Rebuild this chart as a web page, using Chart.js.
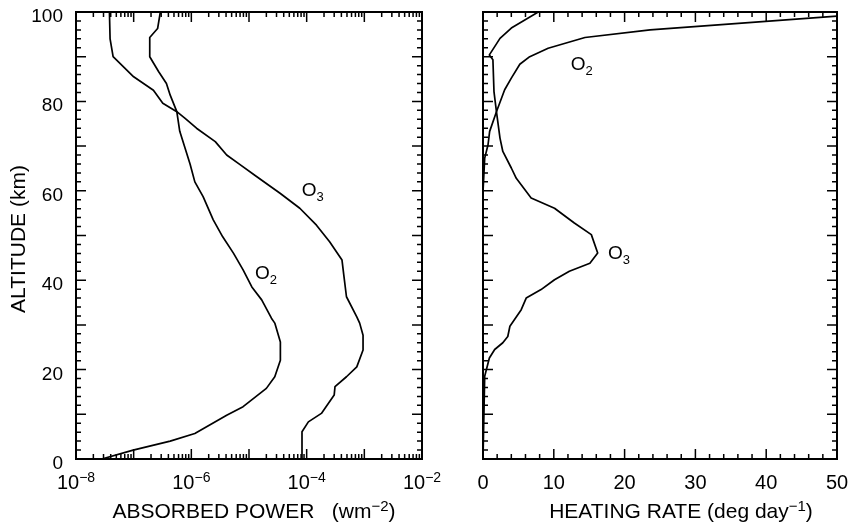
<!DOCTYPE html>
<html>
<head>
<meta charset="utf-8">
<script src="https://cdn.jsdelivr.net/npm/chart.js@4.4.1/dist/chart.umd.min.js"></script>
<style>
body{margin:0;background:#fff;}
#wrap{position:relative;width:853px;height:529px;}
canvas{position:absolute;top:0;}
</style>
</head>
<body>
<div id="wrap">
<canvas id="absChart" width="470" height="529" style="left:0"></canvas>
<canvas id="heatChart" width="423" height="529" style="left:430px"></canvas>
</div>
<script>
// left panel: absorbed power (W m-2) vs altitude (km)
var o3AltLeft = [100, 94, 90, 87.8, 85.5, 82.5, 79.6, 77.7, 76.2, 74, 71, 68, 65.9, 63.2, 59.4, 56.1, 52.3, 48.6, 44.5, 41.2, 36.3, 31.8, 30.4, 27.7, 24.4, 20.6, 18.4, 16.2, 14.3, 10.2, 8.3, 6.1, 0];
var o3Power = [3.8e-8, 3.9e-8, 4.4e-8, 6.6e-8, 1.0e-7, 2.2e-7, 3.2e-7, 5.6e-7, 7.8e-7, 1.23e-6, 2.6e-6, 4.1e-6, 6.9e-6, 1.35e-5, 3.5e-5, 7.6e-5, 1.48e-4, 2.5e-4, 4.1e-4, 4.4e-4, 4.9e-4, 7.4e-4, 8.3e-4, 9.5e-4, 9.5e-4, 7.4e-4, 4.9e-4, 3.1e-4, 3.0e-4, 1.8e-4, 1.07e-4, 8.3e-5, 8.3e-5];
var o2AltLeft = [100, 96.3, 94.3, 90, 86.7, 84, 81.4, 77.7, 73.3, 66, 62, 58.7, 53.5, 49.7, 46, 42.3, 38.5, 35.6, 31.5, 30.4, 26.2, 22.1, 18.4, 15.8, 11.7, 9.8, 5.7, 4, 2, 0];
var o2Power = [2.9e-7, 2.6e-7, 1.9e-7, 1.9e-7, 2.7e-7, 3.7e-7, 4.3e-7, 5.6e-7, 6.3e-7, 9.5e-7, 1.15e-6, 1.6e-6, 2.4e-6, 3.5e-6, 5.4e-6, 7.9e-6, 1.12e-5, 1.66e-5, 2.45e-5, 2.8e-5, 3.5e-5, 3.5e-5, 2.8e-5, 2.0e-5, 7.9e-6, 4.1e-6, 1.15e-6, 4.3e-7, 9.8e-8, 2.8e-8];

// right panel: heating rate (deg/day) vs altitude (km)
var o3AltRight = [100, 96.4, 94.1, 90.4, 89.3, 82.2, 77.7, 71.8, 68.8, 65.1, 62.8, 58.4, 56.1, 52.8, 50.2, 46.1, 43.8, 42.0, 40.1, 37.9, 36.0, 33.4, 29.7, 27.4, 26.0, 24.5, 22.6, 18.5, 0];
var o3Heat = [7.8, 4.0, 2.4, 0.9, 1.4, 1.55, 1.9, 2.4, 2.8, 4.0, 4.7, 6.8, 10.1, 12.9, 15.3, 16.2, 15.1, 12.2, 10.1, 8.2, 6.1, 5.4, 3.8, 3.5, 2.8, 1.65, 0.9, 0.24, 0];
var o2AltRight = [99.1, 96.0, 94.3, 91.9, 90.0, 88.3, 85.2, 82.6, 77.7, 73.3, 70.3, 67.3, 59.8];
var o2Heat = [50, 23.6, 14.4, 9.2, 6.6, 5.2, 4.0, 3.06, 1.9, 0.94, 0.71, 0.24, 0];

// tick labels
var altLabels = [0, 20, 40, 60, 80, 100];
var powerExps = [-8, -6, -4, -2];
var heatLabels = [0, 10, 20, 30, 40, 50];

var FONT = '"Liberation Sans", Arial, Helvetica, sans-serif';

function pts(xs, ys) {
  return xs.map(function(x, i) { return {x: x, y: ys[i]}; });
}

// parts: [text, kind]  kind 1 = superscript, -1 = subscript
function drawParts(ctx, parts, x, y, size, align) {
  var small = Math.round(size * 0.7);
  var widths = [], total = 0;
  parts.forEach(function(p) {
    ctx.font = (p[1] ? small : size) + 'px ' + FONT;
    var w = ctx.measureText(p[0]).width;
    widths.push(w);
    total += w;
  });
  var cx = align === 'center' ? x - total / 2 : (align === 'right' ? x - total : x);
  ctx.textAlign = 'left';
  ctx.textBaseline = 'alphabetic';
  parts.forEach(function(p, i) {
    ctx.font = (p[1] ? small : size) + 'px ' + FONT;
    var dy = p[1] === 1 ? -size * 0.35 : (p[1] === -1 ? size * 0.27 : 0);
    ctx.fillText(p[0], cx, y + dy);
    cx += widths[i];
  });
}

function altTicks() {
  var t = [];
  for (var a = 0; a <= 100; a += 2) t.push([a, a % 10 === 0 ? 10 : 5]);
  return t;
}

var panelPlugin = {
  id: 'panel',
  afterDraw: function(chart, args, opts) {
    var ctx = chart.ctx, area = chart.chartArea;
    var xs = chart.scales.x, ys = chart.scales.y;
    ctx.save();
    ctx.strokeStyle = '#000';
    ctx.fillStyle = '#000';
    ctx.lineWidth = 1.5;
    ctx.beginPath();
    opts.xTicks.forEach(function(t) {
      var px = xs.getPixelForValue(t[0]);
      ctx.moveTo(px, area.bottom); ctx.lineTo(px, area.bottom - t[1]);
      ctx.moveTo(px, area.top); ctx.lineTo(px, area.top + t[1]);
    });
    opts.yTicks.forEach(function(t) {
      var py = ys.getPixelForValue(t[0]);
      ctx.moveTo(area.left, py); ctx.lineTo(area.left + t[1], py);
      ctx.moveTo(area.right, py); ctx.lineTo(area.right - t[1], py);
    });
    ctx.stroke();
    ctx.lineWidth = 2;
    ctx.strokeRect(area.left, area.top, area.right - area.left, area.bottom - area.top);

    opts.yLabels.forEach(function(v) {
      drawParts(ctx, [[String(v), 0]], area.left - 13, ys.getPixelForValue(v) + 10, 19, 'right');
    });
    opts.xLabels.forEach(function(l) {
      drawParts(ctx, l.parts, xs.getPixelForValue(l.v), area.bottom + 30, 20, 'center');
    });
    drawParts(ctx, opts.title, (area.left + area.right) / 2 + opts.titleShift, 518, 21, 'center');
    opts.notes.forEach(function(n) {
      drawParts(ctx, [['O', 0], [n.sub, -1]], xs.getPixelForValue(n.x), ys.getPixelForValue(n.y), 19, 'left');
    });
    if (opts.yTitle) {
      ctx.translate(25, 239);
      ctx.rotate(-Math.PI / 2);
      drawParts(ctx, [[opts.yTitle, 0]], 0, 0, 21, 'center');
    }
    ctx.restore();
  }
};

function lineStyle(data) {
  return {data: data, showLine: true, borderColor: '#000', borderWidth: 1.7,
          pointRadius: 0, fill: false, tension: 0, borderJoinStyle: 'round'};
}

function baseScales(xType, xMin, xMax, yWidth) {
  return {
    x: {type: xType, min: xMin, max: xMax, ticks: {display: false},
        grid: {display: false}, border: {display: false},
        afterFit: function(s) { s.height = 70; }},
    y: {type: 'linear', min: 0, max: 100, ticks: {display: false},
        grid: {display: false}, border: {display: false},
        afterFit: function(s) { s.width = yWidth; }}
  };
}

var logTicks = [];
for (var e = -8; e <= -3; e++) {
  for (var m = 1; m <= 9; m++) logTicks.push([Number(m + 'e' + e), m === 1 ? 10 : 5]);
}
logTicks.push([1e-2, 10]);

var heatTicks = [];
for (var h = 0; h <= 50; h += 2) heatTicks.push([h, h % 10 === 0 ? 10 : 5]);

new Chart(document.getElementById('absChart'), {
  type: 'scatter',
  data: {datasets: [lineStyle(pts(o3Power, o3AltLeft)), lineStyle(pts(o2Power, o2AltLeft))]},
  options: {
    responsive: false, animation: false, events: [],
    layout: {padding: {top: 12, right: 48, left: 0, bottom: 0}},
    scales: baseScales('logarithmic', 1e-8, 1e-2, 76),
    plugins: {
      legend: {display: false}, tooltip: {enabled: false},
      panel: {
        xTicks: logTicks, yTicks: altTicks(), yLabels: altLabels,
        xLabels: powerExps.map(function(p) {
          return {v: Number('1e' + p), parts: [['10', 0], ['\u2212' + Math.abs(p), 1]]};
        }),
        title: [['ABSORBED POWER   (wm', 0], ['\u22122', 1], [')', 0]], titleShift: 5,
        notes: [{sub: '3', x: 8.2e-5, y: 58.9}, {sub: '2', x: 1.27e-5, y: 40.3}],
        yTitle: 'ALTITUDE (km)'
      }
    }
  },
  plugins: [panelPlugin]
});

new Chart(document.getElementById('heatChart'), {
  type: 'scatter',
  data: {datasets: [lineStyle(pts(o3Heat, o3AltRight)), lineStyle(pts(o2Heat, o2AltRight))]},
  options: {
    responsive: false, animation: false, events: [],
    layout: {padding: {top: 12, right: 16, left: 0, bottom: 0}},
    scales: baseScales('linear', 0, 50, 53),
    plugins: {
      legend: {display: false}, tooltip: {enabled: false},
      panel: {
        xTicks: heatTicks, yTicks: altTicks(), yLabels: [],
        xLabels: heatLabels.map(function(v) { return {v: v, parts: [[String(v), 0]]}; }),
        title: [['HEATING RATE (deg day', 0], ['\u22121', 1], [')', 0]], titleShift: 21,
        notes: [{sub: '2', x: 12.4, y: 87.0}, {sub: '3', x: 17.65, y: 44.7}],
        yTitle: null
      }
    }
  },
  plugins: [panelPlugin]
});
</script>
</body>
</html>
